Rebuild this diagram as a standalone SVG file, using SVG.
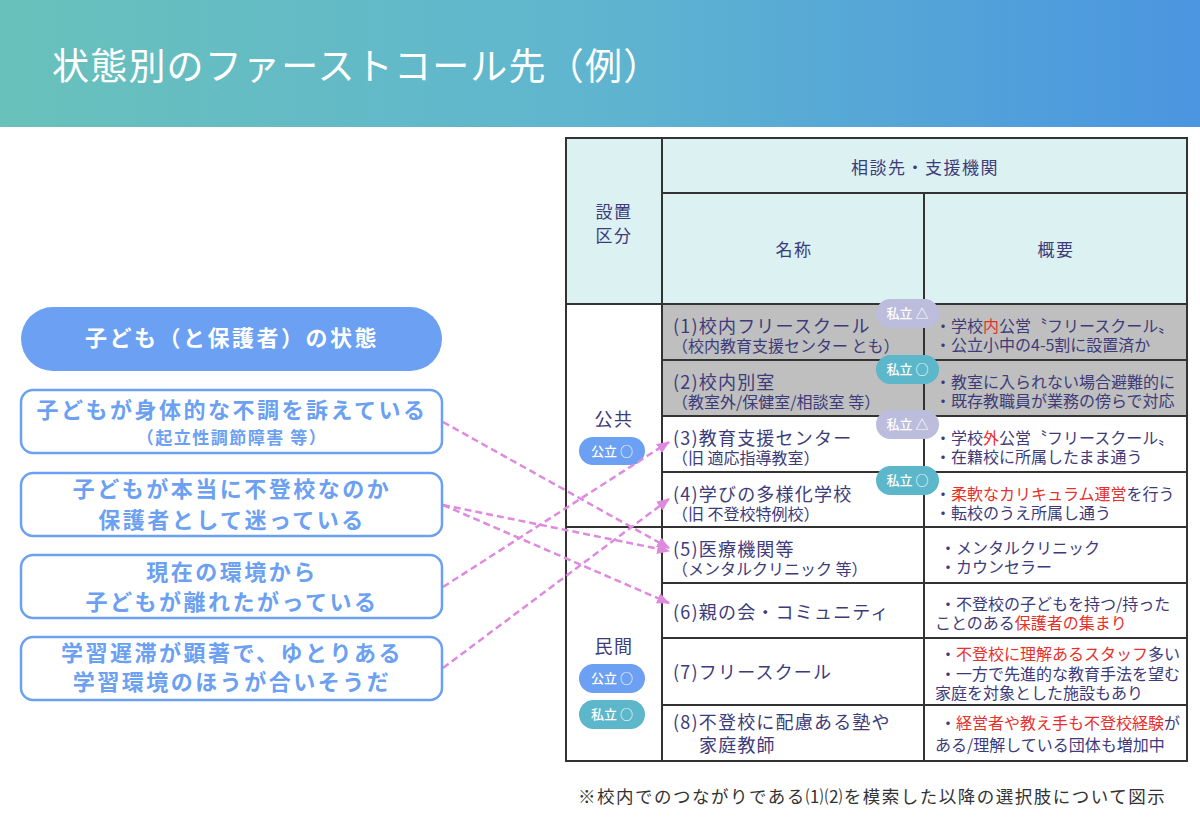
<svg xmlns="http://www.w3.org/2000/svg" width="1200" height="827" viewBox="0 0 1200 827">
<defs>
<linearGradient id="banner" x1="0" y1="0" x2="1" y2="0">
<stop offset="0" stop-color="#69c1bb"/>
<stop offset="0.5" stop-color="#5fb5cf"/>
<stop offset="1" stop-color="#4b95e0"/>
</linearGradient>
<marker id="arr" viewBox="0 0 12 10" refX="11" refY="5" markerWidth="13" markerHeight="11" markerUnits="userSpaceOnUse" orient="auto">
<path d="M0,0 L12,5 L0,10 z" fill="#de8ade"/>
</marker>
<style>
text{font-family:"Noto Sans CJK JP","Noto Sans",sans-serif;}
.title{font-size:37px;fill:#fff;letter-spacing:1.2px;}
.hd{font-size:17px;fill:#3d3b7a;text-anchor:middle;letter-spacing:1.5px;}
.nmt{fill:#3d3b7a;}
.nm{font-size:18px;letter-spacing:1.2px;}
.nm2{font-size:16px;letter-spacing:0;}
.ov{font-size:16px;fill:#3d3b7a;}
.red{fill:#e8302a;}
.pill{font-size:13px;fill:#fff;text-anchor:middle;font-weight:500;}
.box{fill:#fff;stroke:#6ba0f2;stroke-width:2.5;}
.bt{font-size:22px;font-weight:700;fill:#6ba0f2;text-anchor:middle;letter-spacing:2.5px;}
.bt2{font-size:17px;letter-spacing:1.5px;}
.grid{stroke:#333;stroke-width:2;fill:none;}
.conn{stroke:#de8ade;stroke-width:2.5;stroke-dasharray:7 4;fill:none;marker-end:url(#arr);}
.foot{font-size:17.5px;fill:#333;letter-spacing:1.5px;}
</style>
</defs>
<rect x="0" y="0" width="1200" height="127" fill="url(#banner)"/>
<text class="title" x="52" y="80">状態別のファーストコール先（例）</text>

<g id="table">
<rect x="566" y="138" width="621" height="166" fill="#dcf1f2"/>
<rect x="662" y="304" width="525" height="112" fill="#bfbfbf"/>
<g class="grid">
<line x1="662" y1="193" x2="1187" y2="193"/>
<line x1="566" y1="304" x2="1187" y2="304"/>
<line x1="662" y1="360" x2="1187" y2="360"/>
<line x1="662" y1="416" x2="1187" y2="416"/>
<line x1="662" y1="472" x2="1187" y2="472"/>
<line x1="566" y1="527" x2="1187" y2="527"/>
<line x1="662" y1="583" x2="1187" y2="583"/>
<line x1="662" y1="638" x2="1187" y2="638"/>
<line x1="662" y1="705" x2="1187" y2="705"/>
<line x1="662" y1="138" x2="662" y2="761"/>
<line x1="924" y1="193" x2="924" y2="761"/>
<rect x="566" y="138" width="621" height="623"/>
</g>
<text class="hd" x="925" y="174">相談先・支援機関</text>
<text class="hd"><tspan x="614" y="218">設置</tspan><tspan x="614" y="242">区分</tspan></text>
<text class="hd" x="794" y="256">名称</text>
<text class="hd" x="1056" y="256">概要</text>
</g>

<g id="cat-public">
<text class="hd" x="614" y="426" style="font-size:18px">公共</text>
<rect x="579" y="437" width="66" height="28" rx="14" fill="#6ba0f2"/>
<text class="pill" x="612" y="456">公立 ○</text>
</g>
<g id="cat-private">
<text class="hd" x="614" y="653" style="font-size:18px">民間</text>
<rect x="579" y="664" width="66" height="29" rx="14.5" fill="#6ba0f2"/>
<text class="pill" x="612" y="683">公立 ○</text>
<rect x="579" y="700" width="66" height="29" rx="14.5" fill="#5bb7c9"/>
<text class="pill" x="612" y="719">私立 ○</text>
</g>

<g id="row1">
<text class="nmt"><tspan class="nm" x="673" y="333">(1)校内フリースクール</tspan><tspan class="nm2" x="672" y="352">（校内教育支援センター とも）</tspan></text>
<text class="ov"><tspan x="935" y="332">・学校<tspan class="red">内</tspan>公営〝フリースクール〟</tspan><tspan x="935" y="351">・公立小中の4-5割に設置済か</tspan></text>
</g>
<g id="row2">
<text class="nmt"><tspan class="nm" x="673" y="389">(2)校内別室</tspan><tspan class="nm2" x="672" y="408">（教室外/保健室/相談室 等）</tspan></text>
<text class="ov"><tspan x="935" y="388">・教室に入られない場合避難的に</tspan><tspan x="935" y="407">・既存教職員が業務の傍らで対応</tspan></text>
</g>
<g id="row3">
<text class="nmt"><tspan class="nm" x="673" y="445">(3)教育支援センター</tspan><tspan class="nm2" x="672" y="464">（旧 適応指導教室）</tspan></text>
<text class="ov"><tspan x="935" y="444">・学校<tspan class="red">外</tspan>公営〝フリースクール〟</tspan><tspan x="935" y="463">・在籍校に所属したまま通う</tspan></text>
</g>
<g id="row4">
<text class="nmt"><tspan class="nm" x="673" y="501">(4)学びの多様化学校</tspan><tspan class="nm2" x="672" y="520">（旧 不登校特例校）</tspan></text>
<text class="ov"><tspan x="935" y="500">・<tspan class="red">柔軟なカリキュラム運営</tspan>を行う</tspan><tspan x="935" y="519">・転校のうえ所属し通う</tspan></text>
</g>
<g id="row5">
<text class="nmt"><tspan class="nm" x="673" y="556">(5)医療機関等</tspan><tspan class="nm2" x="672" y="575">（メンタルクリニック 等）</tspan></text>
<text class="ov"><tspan x="940" y="554">・メンタルクリニック</tspan><tspan x="940" y="573">・カウンセラー</tspan></text>
</g>
<g id="row6">
<text class="nmt"><tspan class="nm" x="673" y="619">(6)親の会・コミュニティ</tspan></text>
<text class="ov"><tspan x="940" y="610">・不登校の子どもを持つ/持った</tspan><tspan x="935" y="629">ことのある<tspan class="red">保護者の集まり</tspan></tspan></text>
</g>
<g id="row7">
<text class="nmt"><tspan class="nm" x="673" y="679">(7)フリースクール</tspan></text>
<text class="ov"><tspan x="940" y="660">・<tspan class="red">不登校に理解あるスタッフ</tspan>多い</tspan><tspan x="940" y="680">・一方で先進的な教育手法を望む</tspan><tspan x="935" y="699">家庭を対象とした施設もあり</tspan></text>
</g>
<g id="row8">
<text class="nmt"><tspan class="nm" x="673" y="729">(8)不登校に配慮ある塾や</tspan><tspan class="nm" x="699" y="752">家庭教師</tspan></text>
<text class="ov"><tspan x="940" y="729">・<tspan class="red">経営者や教え手も不登校経験</tspan>が</tspan><tspan x="935" y="751">ある/理解している団体も増加中</tspan></text>
</g>

<g id="connectors">
<line class="conn" x1="443" y1="422" x2="669" y2="548"/>
<line class="conn" x1="443" y1="505" x2="669" y2="551"/>
<line class="conn" x1="443" y1="505" x2="669" y2="603"/>
<line class="conn" x1="443" y1="587" x2="669" y2="442"/>
<line class="conn" x1="443" y1="668" x2="669" y2="499"/>
</g>

<g id="badges">
<rect x="876" y="299" width="63" height="29" rx="14.5" fill="#bcbcdc"/>
<text class="pill" x="907.5" y="318">私立 △</text>
<rect x="876" y="355" width="63" height="29" rx="14.5" fill="#5bb7c9"/>
<text class="pill" x="907.5" y="374">私立 ○</text>
<rect x="876" y="410" width="63" height="29" rx="14.5" fill="#bcbcdc"/>
<text class="pill" x="907.5" y="429">私立 △</text>
<rect x="876" y="466" width="63" height="29" rx="14.5" fill="#5bb7c9"/>
<text class="pill" x="907.5" y="485">私立 ○</text>
</g>

<g id="state-header">
<rect x="21" y="307" width="421" height="64" rx="32" fill="#6ba0f2"/>
<text class="bt" x="232" y="346" style="fill:#fff">子ども（と保護者）の状態</text>
</g>
<g id="state1">
<rect class="box" x="21" y="390" width="421" height="63" rx="12"/>
<text class="bt"><tspan x="232" y="418">子どもが身体的な不調を訴えている</tspan><tspan class="bt2" x="232" y="444">（起立性調節障害 等）</tspan></text>
</g>
<g id="state2">
<rect class="box" x="21" y="473" width="421" height="63" rx="12"/>
<text class="bt"><tspan x="232" y="497">子どもが本当に不登校なのか</tspan><tspan x="232" y="528">保護者として迷っている</tspan></text>
</g>
<g id="state3">
<rect class="box" x="21" y="555" width="421" height="63" rx="12"/>
<text class="bt"><tspan x="232" y="580">現在の環境から</tspan><tspan x="232" y="610">子どもが離れたがっている</tspan></text>
</g>
<g id="state4">
<rect class="box" x="21" y="637" width="421" height="63" rx="12"/>
<text class="bt"><tspan x="232" y="661">学習遅滞が顕著で、ゆとりある</tspan><tspan x="232" y="690">学習環境のほうが合いそうだ</tspan></text>
</g>

<text class="foot" x="578" y="803">※校内でのつながりである⑴⑵を模索した以降の選択肢について図示</text>
</svg>
